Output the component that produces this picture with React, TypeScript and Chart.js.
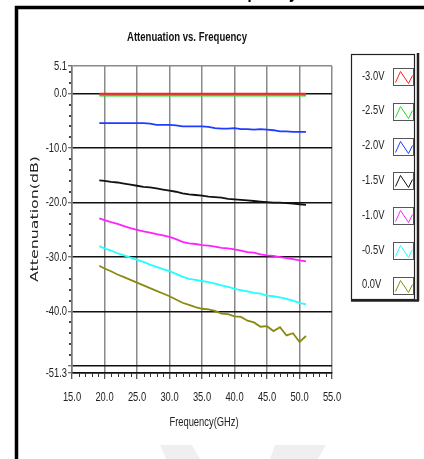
import React, { useEffect, useRef } from "react";
import { Chart, registerables } from "chart.js";

Chart.register(...registerables);

const FREQ_GHZ = [19.2, 20, 21, 22, 23, 24, 25, 26, 27, 28, 29, 30, 31, 32, 33, 34, 35, 36, 37, 38, 39, 40, 41, 42, 43, 44, 45, 46, 47, 48, 49, 50, 51];

const SERIES_LABELS = ["-3.0V", "-2.5V", "-2.0V", "-1.5V", "-1.0V", "-0.5V", "0.0V"];
const SERIES_COLORS = ["#ff2020", "#22dd22", "#1f3dff", "#111111", "#ff22ff", "#22ffff", "#8a8a10"];

const ATT_M30 = [0, 0, 0, 0, 0, 0, 0, 0, 0, 0, 0, 0, 0, 0, 0, 0, 0, 0, 0, 0, 0, 0, 0, 0, 0, 0, 0, 0, 0, 0, 0, 0, 0];
const ATT_M25 = [-0.35, -0.35, -0.35, -0.35, -0.35, -0.35, -0.35, -0.35, -0.35, -0.35, -0.35, -0.35, -0.35, -0.35, -0.35, -0.35, -0.35, -0.35, -0.35, -0.35, -0.35, -0.35, -0.35, -0.35, -0.35, -0.35, -0.35, -0.35, -0.35, -0.35, -0.35, -0.35, -0.35];
const ATT_M20 = [-5.4, -5.4, -5.4, -5.4, -5.4, -5.4, -5.4, -5.4, -5.5, -5.7, -5.7, -5.7, -5.8, -6.0, -6.0, -6.0, -6.0, -6.1, -6.3, -6.4, -6.4, -6.3, -6.5, -6.5, -6.6, -6.5, -6.6, -6.7, -6.9, -6.9, -7.0, -7.0, -7.0];
const ATT_M15 = [-15.9, -16.0, -16.2, -16.3, -16.5, -16.7, -16.9, -17.1, -17.2, -17.4, -17.6, -17.8, -18.0, -18.3, -18.5, -18.6, -18.7, -18.9, -19.0, -19.1, -19.3, -19.4, -19.5, -19.6, -19.7, -19.8, -19.9, -20.0, -20.0, -20.1, -20.2, -20.3, -20.4];
const ATT_M10 = [-22.9, -23.2, -23.6, -23.9, -24.3, -24.7, -25.0, -25.3, -25.5, -25.8, -26.0, -26.3, -26.7, -27.2, -27.5, -27.6, -27.8, -27.9, -28.1, -28.3, -28.4, -28.6, -28.8, -29.1, -29.2, -29.5, -29.7, -29.8, -30.0, -30.2, -30.4, -30.6, -30.8];
const ATT_M05 = [-28.0, -28.4, -28.8, -29.3, -29.7, -30.1, -30.5, -30.9, -31.4, -31.8, -32.2, -32.6, -33.1, -33.6, -34.0, -34.2, -34.4, -34.6, -34.9, -35.2, -35.5, -35.8, -36.1, -36.3, -36.6, -36.7, -37.1, -37.2, -37.4, -37.7, -38.0, -38.4, -38.7];
const ATT_00 = [-31.6, -32.1, -32.6, -33.2, -33.7, -34.2, -34.7, -35.2, -35.7, -36.2, -36.7, -37.2, -37.8, -38.4, -38.8, -39.2, -39.5, -39.6, -39.9, -40.4, -40.5, -40.9, -41.0, -41.7, -42.0, -42.8, -42.7, -43.6, -42.9, -44.4, -44.0, -45.6, -44.5];

const SERIES_VALUES = [ATT_M30, ATT_M25, ATT_M20, ATT_M15, ATT_M10, ATT_M05, ATT_00];

const Y_TICKS = [5.1, 0, -10, -20, -30, -40, -50, -51.3];
const Y_UNLABELED = [-50];
const Y_MINOR = [4, 2, -2, -4, -6, -8, -12, -14, -16, -18, -22, -24, -26, -28, -32, -34, -36, -38, -42, -44, -46, -48];
const X_TICKS = [15, 20, 25, 30, 35, 40, 45, 50, 55];
const X_MINOR = [16, 17, 18, 19, 21, 22, 23, 24, 26, 27, 28, 29, 31, 32, 33, 34, 36, 37, 38, 39, 41, 42, 43, 44, 46, 47, 48, 49, 51, 52, 53, 54];

const CHART_TITLE = "Attenuation vs. Frequency";
const X_TITLE = "Frequency(GHz)";
const Y_TITLE = "Attenuation(dB)";

const SANS = "'Liberation Sans', Arial, sans-serif";
const NARROW_SCALE = 0.72;

function textAt(ctx: any, text: string, x: number, y: number, font: string, sx: number, align: string, color: string) {
  ctx.save();
  ctx.font = font;
  ctx.fillStyle = color;
  ctx.textAlign = align;
  ctx.textBaseline = "middle";
  ctx.translate(x, y);
  ctx.scale(sx, 1);
  ctx.fillText(text, 0, 0);
  ctx.restore();
}

function fitScale(ctx: any, text: string, font: string, width: number) {
  ctx.save();
  ctx.font = font;
  const w = ctx.measureText(text).width;
  ctx.restore();
  return w > 0 ? width / w : 1;
}

const decorPlugin = {
  id: "decor",
  beforeDraw(chart: any) {
    const ctx = chart.ctx;
    ctx.save();
    ctx.fillStyle = "#ffffff";
    ctx.fillRect(0, 0, chart.width, chart.height);
    // clipped page heading at very top
    ctx.fillStyle = "#000";
    ctx.font = `bold 20px ${SANS}`;
    ctx.textAlign = "right";
    ctx.textBaseline = "alphabetic";
    ctx.translate(298, -2.5);
    ctx.scale(0.8, 1);
    ctx.fillText(CHART_TITLE, 0, 0);
    ctx.setTransform(1, 0, 0, 1, 0, 0);
    // faint watermark pieces
    ctx.fillStyle = "#efefef";
    ctx.beginPath();
    ctx.moveTo(160, 445); ctx.lineTo(192, 445); ctx.lineTo(200, 459); ctx.lineTo(166, 459); ctx.closePath();
    ctx.fill();
    ctx.beginPath();
    ctx.moveTo(275, 445); ctx.lineTo(326, 445); ctx.lineTo(318, 459); ctx.lineTo(270, 459); ctx.closePath();
    ctx.fill();
    // outer frame
    ctx.strokeStyle = "#000";
    ctx.lineWidth = 3.5;
    ctx.strokeRect(16.5, 7.5, 600, 600);
    ctx.restore();
  },
  afterDraw(chart: any) {
    const ctx = chart.ctx;
    const xs = chart.scales.x;
    const ys = chart.scales.y;
    const area = chart.chartArea;
    ctx.save();
    // minor ticks
    ctx.fillStyle = "#444";
    Y_MINOR.forEach((v) => {
      const py = Math.round(ys.getPixelForValue(v));
      ctx.fillRect(area.left - 3, py - 1, 2, 2);
    });
    ctx.strokeStyle = "#333";
    ctx.lineWidth = 1;
    X_MINOR.forEach((v) => {
      const px = Math.round(xs.getPixelForValue(v)) + 0.5;
      ctx.beginPath();
      ctx.moveTo(px, area.bottom);
      ctx.lineTo(px, area.bottom + 4);
      ctx.stroke();
    });
    // tick labels (narrow face emulated)
    const tickFont = `13px ${SANS}`;
    ys.ticks.forEach((t: any) => {
      if (Y_UNLABELED.includes(t.value)) return;
      const py = ys.getPixelForValue(t.value);
      textAt(ctx, Number(t.value).toFixed(1), area.left - 5, py, tickFont, NARROW_SCALE, "right", "#222");
    });
    xs.ticks.forEach((t: any) => {
      const px = xs.getPixelForValue(t.value);
      textAt(ctx, Number(t.value).toFixed(1), px, 397, tickFont, NARROW_SCALE, "center", "#222");
    });
    // chart title
    const titleFont = `bold 13px ${SANS}`;
    textAt(ctx, CHART_TITLE, 187, 37, titleFont, fitScale(ctx, CHART_TITLE, titleFont, 120), "center", "#111");
    // x title
    textAt(ctx, X_TITLE, 204, 422, `13px ${SANS}`, NARROW_SCALE, "center", "#222");
    // y title
    ctx.save();
    ctx.translate(35, 219);
    ctx.rotate(-Math.PI / 2);
    const yFont = "11px 'DejaVu Sans', sans-serif";
    textAt(ctx, Y_TITLE, 0, 0, yFont, fitScale(ctx, Y_TITLE, yFont, 126), "center", "#222");
    ctx.restore();
    // legend
    const lx = 351.5, ly = 54.5, lw = 63, lh = 245;
    ctx.strokeStyle = "#222";
    ctx.lineWidth = 1.2;
    ctx.strokeRect(lx, ly, lw, lh);
    ctx.lineWidth = 2.5;
    ctx.beginPath();
    ctx.moveTo(418, 53); ctx.lineTo(418, 301);
    ctx.moveTo(351, 300.5); ctx.lineTo(419, 300.5);
    ctx.stroke();
    const datasets = chart.data.datasets;
    datasets.forEach((ds: any, i: number) => {
      const cy = 76 + i * 34.8;
      textAt(ctx, ds.label, 362, cy, `13px ${SANS}`, NARROW_SCALE, "left", "#222");
      const bx = 393.5, by = Math.round(cy - 8) + 0.5, bw = 20, bh = 17;
      ctx.strokeStyle = "#555";
      ctx.lineWidth = 1;
      ctx.strokeRect(bx, by, bw, bh);
      ctx.strokeStyle = ds.borderColor;
      ctx.lineWidth = 1;
      ctx.beginPath();
      ctx.moveTo(bx + 2, by + bh - 3);
      ctx.lineTo(bx + 7, by + 3);
      ctx.lineTo(bx + 15, by + bh - 2);
      ctx.lineTo(bx + 19, by + 7);
      ctx.stroke();
    });
    ctx.restore();
  },
};

export default function App() {
  const canvasRef = useRef<HTMLCanvasElement | null>(null);

  useEffect(() => {
    const canvas = canvasRef.current;
    if (!canvas) return;
    const datasets = SERIES_LABELS.map((label, i) => ({
      label,
      data: FREQ_GHZ.map((f, j) => ({ x: f, y: SERIES_VALUES[i][j] })),
      borderColor: SERIES_COLORS[i],
      backgroundColor: SERIES_COLORS[i],
      borderWidth: 1.8,
      pointRadius: 0,
      tension: 0,
      fill: false,
    }));
    const chart = new Chart(canvas, {
      type: "line",
      data: { datasets },
      plugins: [decorPlugin],
      options: {
        animation: false,
        responsive: false,
        maintainAspectRatio: false,
        devicePixelRatio: 1,
        layout: { padding: { left: 20, right: 92, top: 66, bottom: 46 } },
        plugins: { legend: { display: false }, tooltip: { enabled: false }, title: { display: false } },
        scales: {
          x: {
            type: "linear",
            min: 15,
            max: 55,
            afterBuildTicks: (scale: any) => {
              scale.ticks = X_TICKS.map((v) => ({ value: v }));
            },
            afterFit: (scale: any) => {
              scale.height = 40;
            },
            ticks: { display: false, autoSkip: false, maxRotation: 0 },
            grid: { color: "#8a8a8a", lineWidth: 1.5, tickColor: "#222", tickLength: 6, tickWidth: 1 },
            border: { color: "#111", width: 1.5 },
          },
          y: {
            type: "linear",
            min: -51.3,
            max: 5.1,
            afterBuildTicks: (scale: any) => {
              scale.ticks = Y_TICKS.map((v) => ({ value: v }));
            },
            afterFit: (scale: any) => {
              scale.width = 52;
            },
            ticks: { display: false, autoSkip: false },
            grid: {
              color: (c: any) => (c.tick && c.tick.value === 5.1 ? "#8a8a8a" : "#111"),
              lineWidth: 1.5,
              tickColor: "#444",
              tickLength: 4,
              tickWidth: 1,
            },
            border: { color: "#777", width: 1.5 },
          },
        },
      } as any,
    });
    return () => chart.destroy();
  }, []);

  return (
    <div style={{ position: "fixed", left: 0, top: 0, width: 424, height: 459, background: "#fff" }}>
      <canvas ref={canvasRef} width={424} height={459} style={{ width: 424, height: 459, display: "block" }} />
    </div>
  );
}
